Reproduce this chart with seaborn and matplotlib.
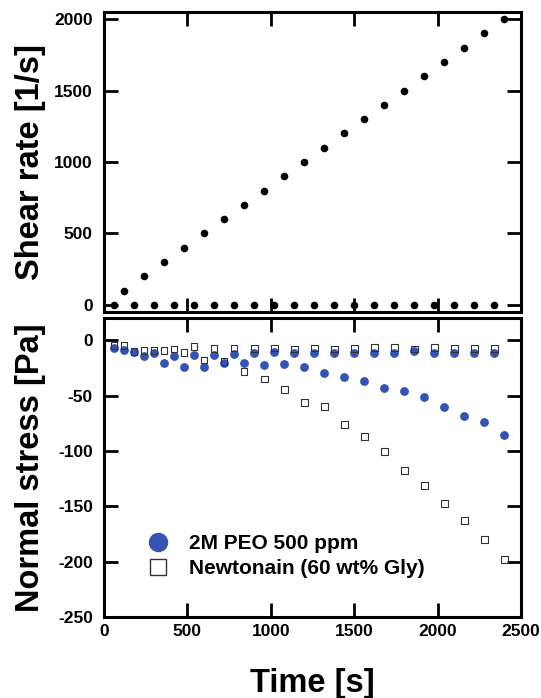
import pandas as pd
import seaborn as sns
import matplotlib.pyplot as plt
from matplotlib.lines import Line2D

#-----------------------------------------------------
# Data
#-----------------------------------------------------
time_s = [60, 120, 180, 240, 300, 360, 420, 480, 540, 600,
          660, 720, 780, 840, 900, 960, 1020, 1080, 1140, 1200,
          1260, 1320, 1380, 1440, 1500, 1560, 1620, 1680, 1740, 1800,
          1860, 1920, 1980, 2040, 2100, 2160, 2220, 2280, 2340, 2400]

shear_rate = [0, 100, 0, 200, 0, 300, 0, 400, 0, 500,
              0, 600, 0, 700, 0, 800, 0, 900, 0, 1000,
              0, 1100, 0, 1200, 0, 1300, 0, 1400, 0, 1500,
              0, 1600, 0, 1700, 0, 1800, 0, 1900, 0, 2000]

stress_peo = [-7.5, -9, -10.5, -14.5, -11.5, -21, -14.5, -24.5, -13, -24,
              -13, -20.5, -12.5, -20.5, -11.5, -22.5, -11, -21.5, -12, -24.5,
              -12, -30, -12, -33.5, -11.5, -36.5, -11.5, -43.5, -11.5, -46,
              -9.5, -51.5, -11.5, -60.5, -12, -68.5, -11.5, -73.5, -11.5, -85.5]

stress_newt = [-4.5, -5, -10.5, -9.5, -9.5, -9.5, -8, -11.5, -6, -18,
               -7.5, -19.5, -7, -28, -7.5, -35, -7, -44.5, -8, -56.5,
               -7, -60, -8, -76.5, -7.5, -87, -6.5, -100.5, -6.5, -117.5,
               -8, -131.5, -6.5, -147.5, -7.5, -163, -7.5, -180, -7.5, -198]

labels = ['2M PEO 500 ppm', 'Newtonain (60 wt% Gly)']

df = pd.DataFrame({'time': time_s, 'rate': shear_rate,
                   'peo': stress_peo, 'newt': stress_newt})

#-----------------------------------------------------
# Aesthetics
#-----------------------------------------------------
sns.set_style('ticks')
plt.rcParams['font.family'] = ['Liberation Sans', 'DejaVu Sans']
plt.rcParams['font.weight'] = 'bold'
plt.rcParams['axes.labelweight'] = 'bold'
plt.rcParams['axes.unicode_minus'] = False
plt.rcParams['text.color'] = 'black'
plt.rcParams['axes.labelcolor'] = 'black'
plt.rcParams['xtick.color'] = 'black'
plt.rcParams['ytick.color'] = 'black'
plt.rcParams['axes.edgecolor'] = 'black'

blue = '#3553b4'
tick_fs = 12.5
label_fs = 23.5

f = plt.figure(figsize=(5.41, 6.98), dpi=100)
ax_top = f.add_axes([0.1922, 0.5530, 0.7708, 0.4298])
ax_bot = f.add_axes([0.1922, 0.1160, 0.7708, 0.4284])

# Shear rate
sns.scatterplot(x='time', y='rate', data=df, ax=ax_top, color='black',
                s=30, linewidth=0, zorder=3)

# Normal stress
sns.scatterplot(x='time', y='peo', data=df, ax=ax_bot, color=blue,
                s=40, linewidth=0, zorder=3)
sns.scatterplot(x='time', y='newt', data=df, ax=ax_bot, marker='s',
                facecolor='none', edgecolor='#333333', s=24, linewidth=0.8,
                zorder=4)

for ax in [ax_top, ax_bot]:
    ax.set_xlim(0, 2500)
    ax.set_xticks([0, 500, 1000, 1500, 2000, 2500])
    for sp in ax.spines.values():
        sp.set_linewidth(2.2)
        sp.set_color('black')
        sp.set_visible(True)
    ax.tick_params(direction='in', length=10, width=2, top=True, right=True,
                   labelsize=tick_fs, color='black', labelcolor='black')
    ax.tick_params(axis='y', pad=8)
    ax.tick_params(axis='x', pad=5)
    for lab in ax.get_xticklabels() + ax.get_yticklabels():
        lab.set_fontweight('bold')

ax_top.set_ylim(-50, 2050)
ax_top.set_yticks([0, 500, 1000, 1500, 2000])
ax_top.tick_params(axis='x', labelbottom=False)
ax_top.set_xlabel('')
ax_top.set_ylabel('Shear rate [1/s]', fontsize=label_fs, fontweight='bold')
ax_top.yaxis.set_label_coords(-0.14, 0.5)

ax_bot.set_ylim(-250, 20)
ax_bot.set_yticks([0, -50, -100, -150, -200, -250])
ax_bot.set_ylabel('Normal stress [Pa]', fontsize=label_fs, fontweight='bold')
ax_bot.yaxis.set_label_coords(-0.14, 0.5)
ax_bot.set_xlabel('Time [s]', fontsize=label_fs, fontweight='bold', labelpad=21)

handles = [Line2D([], [], linestyle='none', marker='o', markersize=13,
                  markerfacecolor=blue, markeredgecolor=blue),
           Line2D([], [], linestyle='none', marker='s', markersize=11,
                  markerfacecolor='white', markeredgecolor='#333333',
                  markeredgewidth=1.0)]
leg = ax_bot.legend(handles, labels, loc='center left',
                    bbox_to_anchor=(0.08, 0.204), frameon=False,
                    borderpad=0, handlelength=1.0, handletextpad=1.0,
                    labelspacing=0.3, prop={'size': 15, 'weight': 'bold'})

plt.savefig('out.png', dpi=100)
